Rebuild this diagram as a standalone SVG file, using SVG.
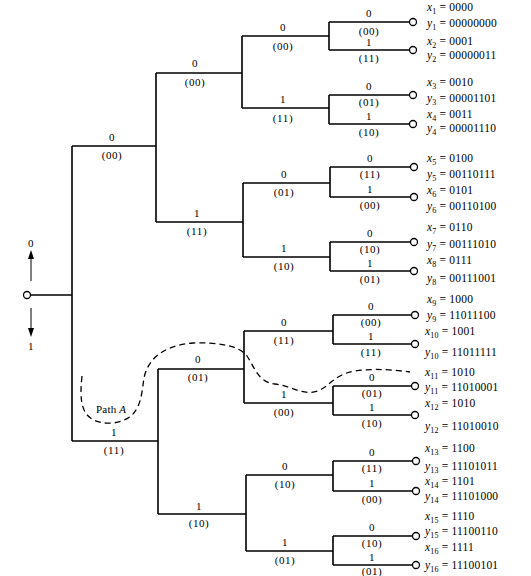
<svg xmlns="http://www.w3.org/2000/svg" width="531" height="576" viewBox="0 0 531 576">
<defs>
<style>
.ln{fill:none;stroke:#000;stroke-width:1.6}
.lf{fill:#fff;stroke:#000;stroke-width:1.3}
.b{font-family:"Liberation Serif",serif;font-size:11px;fill:#000;text-anchor:middle;letter-spacing:0.6px}
.t{font-family:"Liberation Serif",serif;font-size:11.5px;fill:#000;letter-spacing:0.2px}
.v{font-style:italic}
.s{font-size:8px}
.dash{fill:none;stroke:#000;stroke-width:1.3;stroke-dasharray:6 4}
.ar{stroke:#000;stroke-width:1}
</style>
</defs>
<rect width="531" height="576" fill="#fff"/>

<g id="connectors">
<path class="ln" d="M30.5,295 H72 M72,146 V441 M72,146 H156 M72,441 H158"/>
<path class="ln" d="M156,73 V222 M156,73 H242 M156,222 H243 M158,369 V514 M158,369 H244 M158,514 H246"/>
<path class="ln" d="M242,36 V108 M242,36 H329 M242,108 H329 M243,183 V257 M243,183 H330 M243,257 H330 M244,331 V403 M244,331 H333 M244,403 H333 M246,475 V551 M246,475 H333 M246,551 H333"/>
<path class="ln" d="M329,22 V50 M329,22 H409.5 M329,50 H409.5 M329,95 V124 M329,95 H409.5 M329,124 H409.5"/>
<path class="ln" d="M330,167 V197 M330,167 H410.5 M330,197 H410.5 M330,242 V271 M330,242 H410.5 M330,271 H410.5"/>
<path class="ln" d="M333,315 V344 M333,315 H411.5 M333,344 H411.5 M333,386 V415 M333,386 H411.5 M333,415 H411.5"/>
<path class="ln" d="M333,461 V491 M333,461 H412.5 M333,491 H412.5 M333,536 V565 M333,536 H412.5 M333,565 H412.5"/>
</g>

<g id="root">
<circle class="lf" cx="27" cy="295" r="3.5"/>
<line class="ar" x1="31" y1="281" x2="31" y2="257"/>
<polygon points="31,250 28,259 34,259" fill="#000"/>
<text class="b" x="31" y="247">0</text>
<line class="ar" x1="31" y1="308" x2="31" y2="330"/>
<polygon points="31,337 28,328 34,328" fill="#000"/>
<text class="b" x="31" y="350">1</text>
</g>

<g id="branch-labels">
<text class="b" x="112" y="141">0</text><text class="b" x="112" y="159">(00)</text>
<text class="b" x="114" y="436">1</text><text class="b" x="114" y="454">(11)</text>

<text class="b" x="195" y="67">0</text><text class="b" x="195" y="86">(00)</text>
<text class="b" x="197" y="217">1</text><text class="b" x="197" y="235">(11)</text>
<text class="b" x="198" y="363">0</text><text class="b" x="198" y="381">(01)</text>
<text class="b" x="199" y="510">1</text><text class="b" x="199" y="527">(10)</text>

<text class="b" x="283" y="31">0</text><text class="b" x="283" y="50">(00)</text>
<text class="b" x="283" y="103">1</text><text class="b" x="283" y="122">(11)</text>
<text class="b" x="284" y="178">0</text><text class="b" x="284" y="196">(01)</text>
<text class="b" x="284" y="252">1</text><text class="b" x="284" y="270">(10)</text>
<text class="b" x="284" y="326">0</text><text class="b" x="284" y="344">(11)</text>
<text class="b" x="284" y="398">1</text><text class="b" x="284" y="416">(00)</text>
<text class="b" x="285" y="470">0</text><text class="b" x="285" y="488">(10)</text>
<text class="b" x="285" y="546">1</text><text class="b" x="285" y="564">(01)</text>

<text class="b" x="369" y="17">0</text><text class="b" x="369" y="35">(00)</text>
<text class="b" x="369" y="46">1</text><text class="b" x="369" y="62">(11)</text>
<text class="b" x="369" y="90">0</text><text class="b" x="369" y="106">(01)</text>
<text class="b" x="369" y="120">1</text><text class="b" x="369" y="136">(10)</text>
<text class="b" x="370" y="162">0</text><text class="b" x="370" y="178">(11)</text>
<text class="b" x="370" y="193">1</text><text class="b" x="370" y="209">(00)</text>
<text class="b" x="370" y="237">0</text><text class="b" x="370" y="253">(10)</text>
<text class="b" x="370" y="267">1</text><text class="b" x="370" y="283">(01)</text>
<text class="b" x="371" y="310">0</text><text class="b" x="371" y="326">(00)</text>
<text class="b" x="371" y="340">1</text><text class="b" x="371" y="356">(11)</text>
<text class="b" x="372" y="381">0</text><text class="b" x="372" y="397">(01)</text>
<text class="b" x="372" y="411">1</text><text class="b" x="372" y="427">(10)</text>
<text class="b" x="372" y="456">0</text><text class="b" x="372" y="472">(11)</text>
<text class="b" x="372" y="487">1</text><text class="b" x="372" y="503">(00)</text>
<text class="b" x="372" y="531">0</text><text class="b" x="372" y="547">(10)</text>
<text class="b" x="372" y="561">1</text><text class="b" x="372" y="575">(01)</text>
</g>

<g id="leaf1"><circle class="lf" cx="413" cy="22" r="3.5"/><text class="t" x="427" y="11"><tspan class="v">x</tspan><tspan class="s" dy="3">1</tspan><tspan dy="-3"> = 0000</tspan></text><text class="t" x="427" y="27"><tspan class="v">y</tspan><tspan class="s" dy="3">1</tspan><tspan dy="-3"> = 00000000</tspan></text></g>
<g id="leaf2"><circle class="lf" cx="413" cy="50" r="3.5"/><text class="t" x="427" y="45"><tspan class="v">x</tspan><tspan class="s" dy="3">2</tspan><tspan dy="-3"> = 0001</tspan></text><text class="t" x="427" y="59"><tspan class="v">y</tspan><tspan class="s" dy="3">2</tspan><tspan dy="-3"> = 00000011</tspan></text></g>
<g id="leaf3"><circle class="lf" cx="413" cy="95" r="3.5"/><text class="t" x="427" y="86"><tspan class="v">x</tspan><tspan class="s" dy="3">3</tspan><tspan dy="-3"> = 0010</tspan></text><text class="t" x="427" y="102"><tspan class="v">y</tspan><tspan class="s" dy="3">3</tspan><tspan dy="-3"> = 00001101</tspan></text></g>
<g id="leaf4"><circle class="lf" cx="413" cy="124" r="3.5"/><text class="t" x="427" y="118"><tspan class="v">x</tspan><tspan class="s" dy="3">4</tspan><tspan dy="-3"> = 0011</tspan></text><text class="t" x="427" y="132"><tspan class="v">y</tspan><tspan class="s" dy="3">4</tspan><tspan dy="-3"> = 00001110</tspan></text></g>
<g id="leaf5"><circle class="lf" cx="414" cy="167" r="3.5"/><text class="t" x="427" y="162"><tspan class="v">x</tspan><tspan class="s" dy="3">5</tspan><tspan dy="-3"> = 0100</tspan></text><text class="t" x="427" y="178"><tspan class="v">y</tspan><tspan class="s" dy="3">5</tspan><tspan dy="-3"> = 00110111</tspan></text></g>
<g id="leaf6"><circle class="lf" cx="414" cy="197" r="3.5"/><text class="t" x="427" y="194"><tspan class="v">x</tspan><tspan class="s" dy="3">6</tspan><tspan dy="-3"> = 0101</tspan></text><text class="t" x="427" y="210"><tspan class="v">y</tspan><tspan class="s" dy="3">6</tspan><tspan dy="-3"> = 00110100</tspan></text></g>
<g id="leaf7"><circle class="lf" cx="414" cy="242" r="3.5"/><text class="t" x="427" y="231"><tspan class="v">x</tspan><tspan class="s" dy="3">7</tspan><tspan dy="-3"> = 0110</tspan></text><text class="t" x="427" y="248"><tspan class="v">y</tspan><tspan class="s" dy="3">7</tspan><tspan dy="-3"> = 00111010</tspan></text></g>
<g id="leaf8"><circle class="lf" cx="414" cy="271" r="3.5"/><text class="t" x="427" y="264"><tspan class="v">x</tspan><tspan class="s" dy="3">8</tspan><tspan dy="-3"> = 0111</tspan></text><text class="t" x="427" y="282"><tspan class="v">y</tspan><tspan class="s" dy="3">8</tspan><tspan dy="-3"> = 00111001</tspan></text></g>
<g id="leaf9"><circle class="lf" cx="415" cy="315" r="3.5"/><text class="t" x="427" y="303"><tspan class="v">x</tspan><tspan class="s" dy="3">9</tspan><tspan dy="-3"> = 1000</tspan></text><text class="t" x="427" y="319"><tspan class="v">y</tspan><tspan class="s" dy="3">9</tspan><tspan dy="-3"> = 11011100</tspan></text></g>
<g id="leaf10"><circle class="lf" cx="415" cy="344" r="3.5"/><text class="t" x="425" y="335"><tspan class="v">x</tspan><tspan class="s" dy="3">10</tspan><tspan dy="-3"> = 1001</tspan></text><text class="t" x="425" y="356"><tspan class="v">y</tspan><tspan class="s" dy="3">10</tspan><tspan dy="-3"> = 11011111</tspan></text></g>
<g id="leaf11"><circle class="lf" cx="415" cy="386" r="3.5"/><text class="t" x="425" y="376"><tspan class="v">x</tspan><tspan class="s" dy="3">11</tspan><tspan dy="-3"> = 1010</tspan></text><text class="t" x="425" y="391"><tspan class="v">y</tspan><tspan class="s" dy="3">11</tspan><tspan dy="-3"> = 11010001</tspan></text></g>
<g id="leaf12"><circle class="lf" cx="415" cy="415" r="3.5"/><text class="t" x="425" y="407"><tspan class="v">x</tspan><tspan class="s" dy="3">12</tspan><tspan dy="-3"> = 1010</tspan></text><text class="t" x="425" y="430"><tspan class="v">y</tspan><tspan class="s" dy="3">12</tspan><tspan dy="-3"> = 11010010</tspan></text></g>
<g id="leaf13"><circle class="lf" cx="416" cy="461" r="3.5"/><text class="t" x="425" y="452"><tspan class="v">x</tspan><tspan class="s" dy="3">13</tspan><tspan dy="-3"> = 1100</tspan></text><text class="t" x="425" y="470"><tspan class="v">y</tspan><tspan class="s" dy="3">13</tspan><tspan dy="-3"> = 11101011</tspan></text></g>
<g id="leaf14"><circle class="lf" cx="416" cy="491" r="3.5"/><text class="t" x="425" y="485"><tspan class="v">x</tspan><tspan class="s" dy="3">14</tspan><tspan dy="-3"> = 1101</tspan></text><text class="t" x="425" y="500"><tspan class="v">y</tspan><tspan class="s" dy="3">14</tspan><tspan dy="-3"> = 11101000</tspan></text></g>
<g id="leaf15"><circle class="lf" cx="416" cy="536" r="3.5"/><text class="t" x="425" y="520"><tspan class="v">x</tspan><tspan class="s" dy="3">15</tspan><tspan dy="-3"> = 1110</tspan></text><text class="t" x="425" y="535"><tspan class="v">y</tspan><tspan class="s" dy="3">15</tspan><tspan dy="-3"> = 11100110</tspan></text></g>
<g id="leaf16"><circle class="lf" cx="416" cy="565" r="3.5"/><text class="t" x="425" y="551"><tspan class="v">x</tspan><tspan class="s" dy="3">16</tspan><tspan dy="-3"> = 1111</tspan></text><text class="t" x="425" y="569"><tspan class="v">y</tspan><tspan class="s" dy="3">16</tspan><tspan dy="-3"> = 11100101</tspan></text></g>

<g id="pathA">
<path class="dash" d="M82,376 C80,395 80,412 92,419 C104,426 122,424 132,415 C142,405 142,390 144,378 C148,358 165,345 193,343 C218,342 240,346 247,356 C255,368 258,382 275,384 C292,386 302,396 318,391 C330,386 335,374 355,371 C375,368 395,370 410,372"/>
<text class="t" x="96" y="413" style="font-size:11px">Path <tspan class="v">A</tspan></text>
</g>
</svg>
